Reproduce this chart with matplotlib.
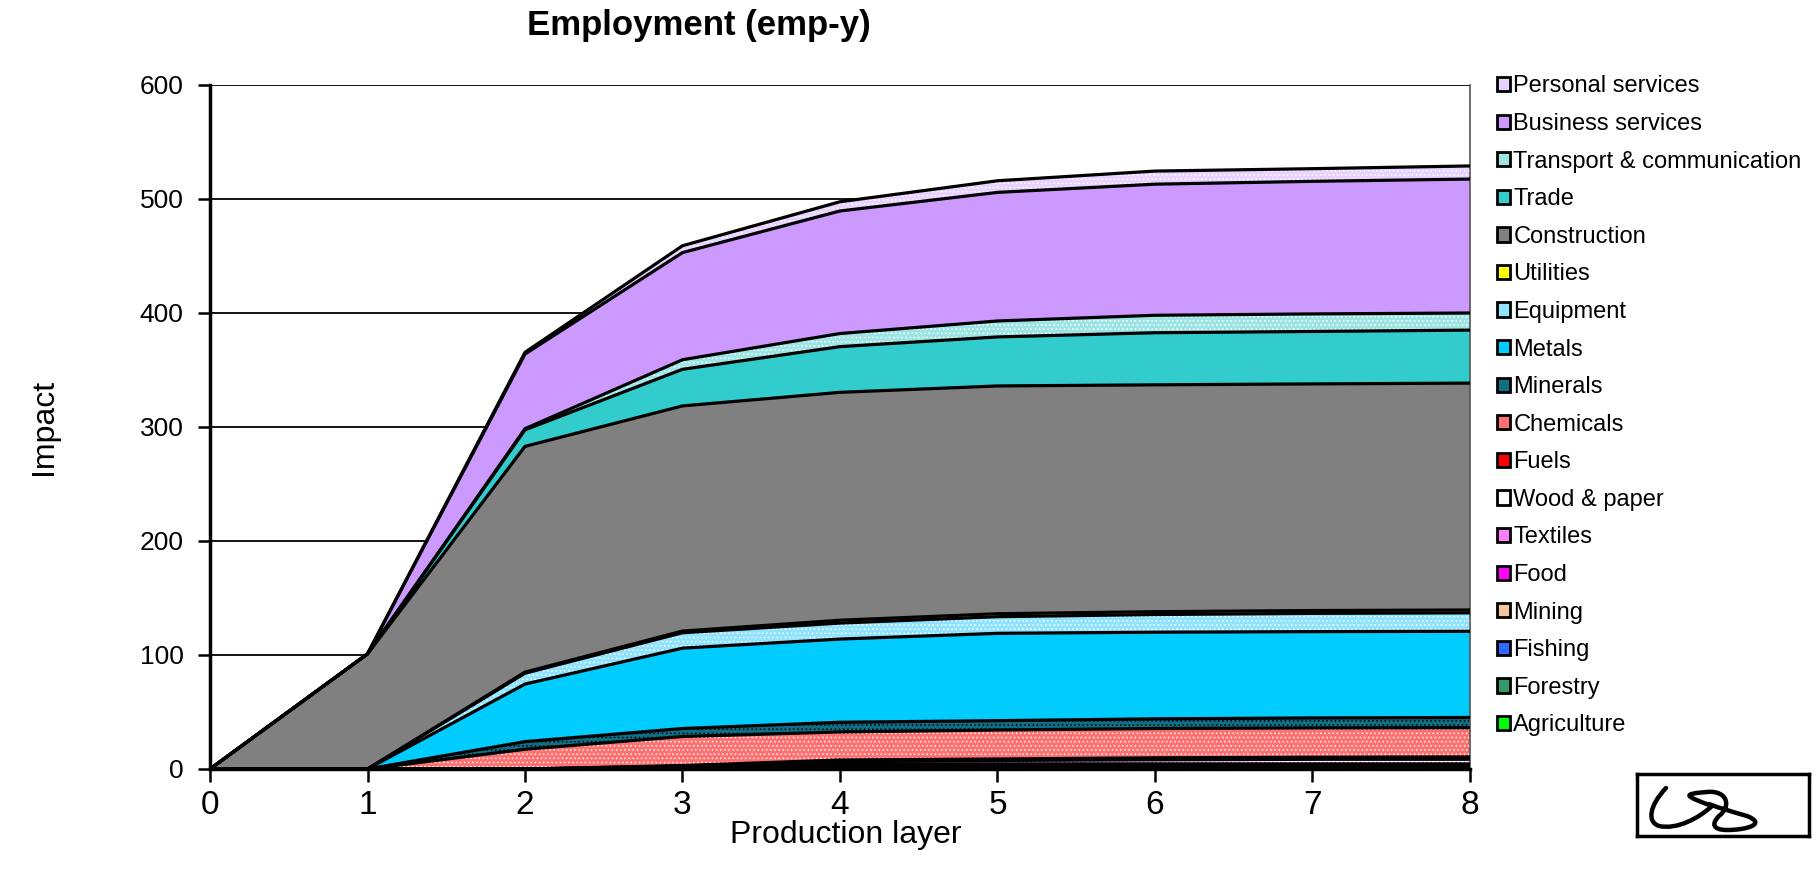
import matplotlib
matplotlib.use("Agg")
import matplotlib.pyplot as plt
from matplotlib.patches import Rectangle, PathPatch
from matplotlib.path import Path
import numpy as np

plt.rcParams['font.family'] = ['Liberation Sans', 'DejaVu Sans']
plt.rcParams['hatch.linewidth'] = 0.6

# Production layers
layers = [0, 1, 2, 3, 4, 5, 6, 7, 8]

# Employment impact by sector (emp-y), stacked bottom to top
agriculture = [0, 0, 0, 0.3, 0.6, 0.6, 0.6, 0.6, 0.6]
forestry = [0, 0, 0, 0.4, 0.8, 0.8, 0.8, 0.8, 0.8]
fishing = [0, 0, 0, 0.1, 0.1, 0.1, 0.1, 0.1, 0.1]
mining = [0, 0, 0, 0.4, 0.9, 0.9, 0.9, 0.9, 0.9]
food = [0, 0, 0, 0.4, 1.0, 1.0, 1.0, 1.0, 1.0]
textiles = [0, 0, 0, 0.4, 1.1, 1.1, 1.1, 1.1, 1.1]
wood_paper = [0, 0, 0, 0.6, 1.9, 3.0, 3.5, 4.0, 4.0]
fuels = [0, 0, 0, 0.4, 1.5, 1.3, 1.8, 1.8, 2.1]
chemicals = [0, 0, 17.3, 25.5, 24.6, 25.4, 25.7, 25.7, 25.6]
minerals = [0, 0, 6.7, 7.0, 8.5, 8.2, 8.5, 8.8, 9.0]
metals = [0, 0, 50.5, 70.5, 73.0, 76.6, 76.0, 75.7, 75.6]
equipment = [0, 0, 9.5, 13.5, 14.0, 14.6, 15.5, 16.0, 16.2]
utilities = [0, 0, 1.0, 1.5, 2.5, 2.6, 2.5, 2.5, 2.5]
construction = [0, 101, 198, 197.5, 199.9, 199.8, 199.0, 198.8, 199.0]
trade = [0, 0, 14.5, 32.1, 40.1, 43.0, 45.7, 46.0, 46.5]
transport = [0, 0, 1.0, 8.4, 11.5, 14.0, 15.3, 15.4, 15.0]
business = [0, 0, 65.5, 94.0, 107.5, 112.8, 115.0, 116.3, 117.5]
personal = [0, 0, 1.5, 6.0, 8.1, 10.2, 11.5, 11.1, 11.5]

sectors = ["Agriculture", "Forestry", "Fishing", "Mining", "Food", "Textiles",
           "Wood & paper", "Fuels", "Chemicals", "Minerals", "Metals",
           "Equipment", "Utilities", "Construction", "Trade",
           "Transport & communication", "Business services", "Personal services"]
series = [agriculture, forestry, fishing, mining, food, textiles, wood_paper,
          fuels, chemicals, minerals, metals, equipment, utilities,
          construction, trade, transport, business, personal]

# (fill colour, dot pattern colour or None)
styles = [
    ("#00FF00", None),
    ("#339966", None),
    ("#3366FF", None),
    ("#F2C79E", "#FFFFFF"),
    ("#FF00FF", None),
    ("#FF80FF", "#FF00FF"),
    ("#FFFFFF", "#FF00FF"),
    ("#FF0000", None),
    ("#FF7070", "#FFFFFF"),
    ("#0E6F86", "#000000"),
    ("#00CCFF", None),
    ("#8FE3FF", "#FFFFFF"),
    ("#FFFF00", None),
    ("#808080", None),
    ("#33CCCC", None),
    ("#9DE5E5", "#FFFFFF"),
    ("#CC99FF", None),
    ("#E8D2FF", "#FFFFFF"),
]

fig = plt.figure(figsize=(18.18, 8.91), dpi=100)
ax = fig.add_axes([210 / 1818, 1 - 769 / 891, 1260 / 1818, 684 / 891])

x = np.array(layers, dtype=float)
base = np.zeros_like(x)
handles = []
for name, vals, (fc, dot) in zip(sectors, series, styles):
    top = base + np.array(vals, dtype=float)
    ax.fill_between(x, base, top, facecolor=fc, edgecolor="none",
                    linewidth=0, zorder=2)
    if dot is not None:
        ax.fill_between(x, base, top, facecolor="none", edgecolor=dot,
                        hatch="....", linewidth=0, zorder=2.1)
    ax.plot(x, top, color="black", linewidth=2.3, zorder=3,
            solid_joinstyle="miter")
    handles.append(Rectangle((0, 0), 1, 1, facecolor=fc, edgecolor="black",
                             linewidth=2.0))
    base = top

ax.set_xlim(0, 8)
ax.set_ylim(0, 600)
ax.set_xticks(layers)
ax.set_yticks([0, 100, 200, 300, 400, 500, 600])
ax.yaxis.grid(True, color="black", linewidth=1.3, zorder=0)
ax.set_axisbelow(True)

ax.spines["top"].set_visible(False)
ax.spines["right"].set_color("#555555")
ax.spines["right"].set_linewidth(1.2)
ax.spines["left"].set_linewidth(2.5)
ax.spines["bottom"].set_linewidth(2.5)
ax.spines["bottom"].set_zorder(4)

ax.tick_params(axis="x", direction="out", length=9, width=1.8, labelsize=24,
               pad=6)
ax.tick_params(axis="y", direction="out", length=9, width=1.8, labelsize=19,
               pad=10)

ax.set_xlabel("Production layer", fontsize=23, labelpad=1)
ax.xaxis.set_label_coords(0.5046, -0.075)
ax.set_ylabel("Impact", fontsize=23, labelpad=58)

fig.text(699 / 1818, 1 - 25 / 891, "Employment (emp-y)", fontsize=25,
         fontweight="bold", ha="center", va="center")

leg = fig.legend(handles[::-1], sectors[::-1], loc="upper left",
                 bbox_to_anchor=(1488 / 1818, 1 - 66 / 891), frameon=False,
                 fontsize=17, handlelength=0.55, handleheight=0.55,
                 handletextpad=0.12, labelspacing=0.66, borderaxespad=0)

# Signature badge in the lower right corner
bax = fig.add_axes([1637 / 1818, 1 - 836 / 891, 172 / 1818, 62 / 891])
bax.set_xlim(0, 172)
bax.set_ylim(0, 62)
bax.set_xticks([])
bax.set_yticks([])
for s in bax.spines.values():
    s.set_linewidth(2.5)
verts = [(29, 48), (12, 30), (10, 14), (22, 10),
         (40, 6), (62, 18), (75, 30),
         (48, 40), (44, 42), (70, 44),
         (90, 46), (95, 30), (82, 20),
         (74, 12), (76, 6), (90, 6),
         (110, 6), (130, 12), (110, 20),
         (96, 24), (82, 28), (72, 32)]
codes = [Path.MOVETO] + [Path.CURVE4] * 21
bax.add_patch(PathPatch(Path(verts, codes), facecolor="none",
                        edgecolor="black", linewidth=3.2, capstyle="round"))

fig.savefig("out.png", dpi=100, facecolor="white")
